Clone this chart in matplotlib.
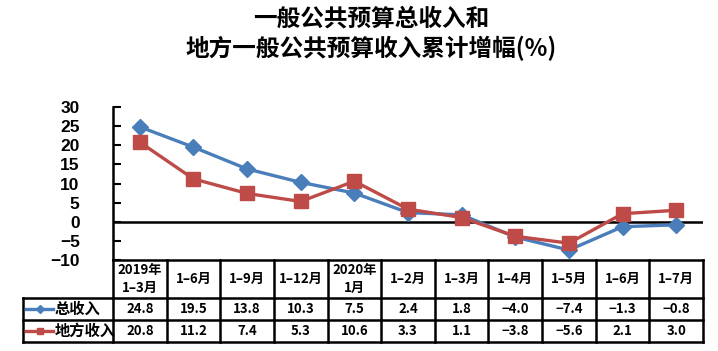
import numpy as np
import matplotlib
matplotlib.use("Agg")
from matplotlib import pyplot as plt
from matplotlib.lines import Line2D
import matplotlib.transforms as mtransforms

plt.rcParams['font.family'] = ['Noto Sans CJK SC', 'DejaVu Sans']

# data
periods = ["2019年\n1–3月", "1–6月", "1–9月", "1–12月", "2020年\n1月",
           "1–2月", "1–3月", "1–4月", "1–5月", "1–6月", "1–7月"]
total_income = [24.8, 19.5, 13.8, 10.3, 7.5, 2.4, 1.8, -4.0, -7.4, -1.3, -0.8]
local_income = [20.8, 11.2, 7.4, 5.3, 10.6, 3.3, 1.1, -3.8, -5.6, 2.1, 3.0]
series_names = ["总收入", "地方收入"]
yticks = [30, 25, 20, 15, 10, 5, 0, -5, -10]

blue = "#4a7ebb"
red = "#be4b48"

W, H = 718, 351
fig = plt.figure(figsize=(W / 100, H / 100), dpi=100)
# axes box in pixels: left 113, right 703, top 107, bottom 260
ax = fig.add_axes([113 / W, (H - 260) / H, 590 / W, 153 / H])

x = np.arange(len(periods))
ax.plot(x, total_income, color=blue, lw=2.4, marker="D", ms=8, zorder=3)
ax.plot(x, local_income, color=red, lw=2.4, marker="s", ms=10, zorder=4)
ax.axhline(0, color="black", lw=1.8, zorder=2)

ax.set_xlim(-0.5, len(periods) - 0.5)
ax.set_ylim(-10, 30)
ax.set_yticks(yticks)
ax.set_yticklabels([str(t).replace("-", "−") for t in yticks],
                   fontfamily="Liberation Sans", fontweight="bold", fontsize=12.5)
ax.tick_params(axis="y", direction="in", length=6, width=1.5, pad=24)
ax.set_xticks([])
for s in ["top", "right", "bottom"]:
    ax.spines[s].set_visible(False)
ax.spines["left"].set_linewidth(1.8)

# title
fig.text(0.517, 1 - 19 / H, "一般公共预算总收入和", ha="center", va="center",
         fontsize=17, fontweight="heavy")
fig.text(0.517, 1 - 48 / H, "地方一般公共预算收入累计增幅(%)", ha="center", va="center",
         fontsize=17, fontweight="heavy")

# data table below axes: x in data units, y in axes fraction
trans = mtransforms.blended_transform_factory(ax.transData, ax.transAxes)
px = 1 / 153  # one pixel in axes fraction
y_top = 0
y_h1 = -38 * px
y_r1 = -60 * px
y_r2 = -82 * px
x_lab = -0.5 - 90 / (590 / len(periods))
x_end = len(periods) - 0.5
lw = 1.8
kw = dict(transform=trans, clip_on=False, color="black", lw=lw)

# horizontal lines
ax.add_line(Line2D([-0.5, x_end], [y_top, y_top], **kw))
for yy in [y_h1, y_r1, y_r2]:
    ax.add_line(Line2D([x_lab, x_end], [yy, yy], **kw))
# vertical lines
ax.add_line(Line2D([x_lab, x_lab], [y_h1, y_r2], **kw))
for i in range(len(periods) + 1):
    ax.add_line(Line2D([i - 0.5, i - 0.5], [y_top, y_r2], **kw))

tfont = dict(fontsize=9.5, fontweight="heavy", ha="center", va="center",
             transform=trans, clip_on=False)
for i, p in enumerate(periods):
    ax.text(i, (y_top + y_h1) / 2, p, linespacing=1.3, **tfont)
    ax.text(i, (y_h1 + y_r1) / 2, f"{total_income[i]:.1f}".replace("-", "−"), **tfont)
    ax.text(i, (y_r1 + y_r2) / 2, f"{local_income[i]:.1f}".replace("-", "−"), **tfont)

# row labels with legend keys
key_x0 = x_lab + 3 / 53.6
key_x1 = x_lab + 30 / 53.6
for yy0, yy1, name, col, mk, ms in [(y_h1, y_r1, series_names[0], blue, "D", 4),
                                    (y_r1, y_r2, series_names[1], red, "s", 5)]:
    ym = (yy0 + yy1) / 2
    ax.add_line(Line2D([key_x0, key_x1], [ym, ym], color=col, lw=2.4,
                       transform=trans, clip_on=False))
    ax.add_line(Line2D([(key_x0 + key_x1) / 2], [ym], color=col, marker=mk, ms=ms,
                       transform=trans, clip_on=False))
    ax.text(key_x1 + 2 / 53.6, ym, name, fontsize=11, fontweight="heavy",
            ha="left", va="center", transform=trans, clip_on=False)

fig.savefig("out.png", dpi=100)
